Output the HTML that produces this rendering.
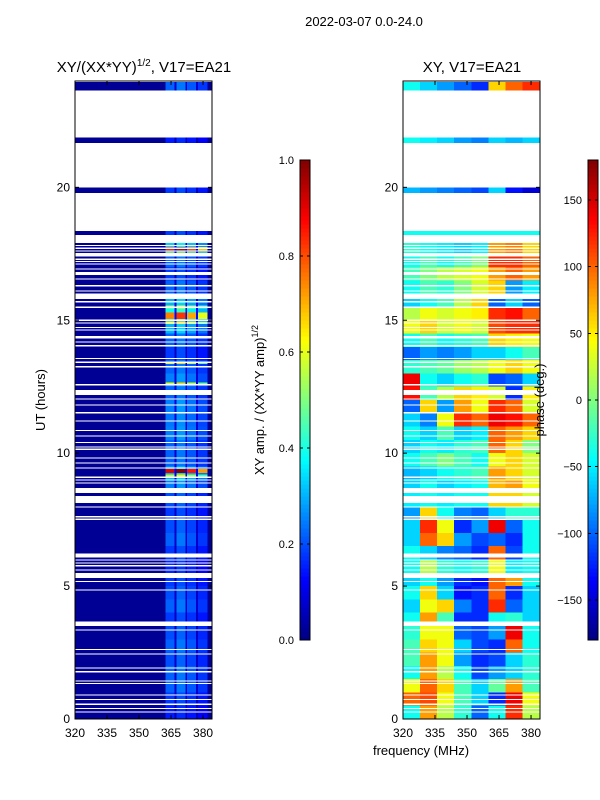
<!DOCTYPE html>
<html><head><meta charset="utf-8">
<style>
body{margin:0;background:#fff;}
svg{display:block;font-family:"Liberation Sans","DejaVu Sans",sans-serif;}
</style></head>
<body>
<svg id="fig" width="600" height="800" viewBox="0 0 600 800">
<text x="364" y="26" font-size="13" text-anchor="middle">2022-03-07 0.0-24.0</text>
<text x="144" y="72" font-size="15" text-anchor="middle">XY/(XX*YY)<tspan font-size="10" dy="-6">1/2</tspan><tspan dy="6">, V17=EA21</tspan></text>
<text x="472" y="72" font-size="15" text-anchor="middle">XY, V17=EA21</text>
<text transform="translate(45,400) rotate(-90)" font-size="13" text-anchor="middle">UT (hours)</text>
<text x="421" y="755" font-size="13" text-anchor="middle">frequency (MHz)</text>
<text transform="translate(264,400) rotate(-90)" font-size="13" text-anchor="middle">XY amp. / (XX*YY amp)<tspan font-size="9" dy="-6">1/2</tspan></text>
<g id="ampPanel" shape-rendering="crispEdges"></g>
<g id="phPanel" shape-rendering="crispEdges"></g>
<g id="axes"></g>
<text transform="translate(544,400) rotate(-90)" font-size="13" text-anchor="middle">phase (deg.)</text>
</svg>
<script>
// ---- data ----
const timeBinHours = 0.5;
const dataRanges = [[0,3.5],[3.66,17.9],[18.21,18.36],[19.79,19.99],[21.66,21.88],[23.64,23.97]];
const flaggedRows = [[0.25,0.29],[0.38,0.42],[0.54,0.58],[0.72,0.76],[0.88,0.92],[1.32,1.36],[1.41,1.45],[1.76,1.8],[1.9,1.94],[2.43,2.47],[2.6,2.64],[3.33,3.37],
[4.83,4.87],[5.15,5.19],[5.3,5.49],[5.59,5.63],[5.75,5.79],[5.85,5.89],[5.96,6.0],[6.08,6.23],[7.5,7.54],[7.59,7.63],[7.96,8.0],[8.13,8.33],[8.34,8.38],[8.51,8.69],[8.86,8.9],[8.97,9.01],[9.08,9.12],[9.42,9.46],[9.61,9.65],[9.8,9.84],[10.13,10.17],[10.22,10.26],[10.38,10.42],[10.63,10.67],[10.83,10.87],[11.19,11.23],[11.5,11.54],[11.79,11.83],
[12.02,12.06],[12.19,12.38],[12.56,12.6],[13.23,13.27],[13.4,13.44],[13.54,13.58],[14.02,14.06],[14.17,14.21],[14.32,14.41],[14.62,14.66],[14.71,14.75],[14.88,14.92],[14.98,15.02],[15.47,15.51],[15.68,15.72],[15.79,16.01],[16.08,16.12],[16.28,16.32],[16.53,16.57],[16.71,16.75],[16.77,16.81],[16.91,16.95],[17.1,17.14],[17.19,17.23],[17.28,17.32],[17.4,17.53],[17.59,17.63],[17.69,17.73],[17.79,17.83]];
const bandAmp = [0.15,0.18,0.22,0.22,0.2,0.22,0.2,0.18,0.22,0.2,0.18,0.16,0.18,0.22,0.2,0.18,0.2,0.25,0.3,0.22,0.22,0.25,0.24,0.25,0.22,0.25,0.22,0.18,0.22,0.3,0.38,0.3,0.22,0.18,0.22,0.33,0.18,0.15,0.15,0.18,0.15,0.15,0.15,0.15,0.15,0.15,0.15,0.22];
const hotRows = [[17.6,17.75,0.85],[17.45,17.55,0.6],[15.05,15.3,0.75],[14.85,14.95,0.6],[13.35,13.45,0.6],[12.55,12.65,0.6],[9.25,9.4,0.9],[9.1,9.2,0.55],[15.45,15.55,0.55]];
const ampChanEdges = [320,362.5,366.7,367.5,371.8,372.6,376.8,377.6,382,384];
const ampChanWeight = [0,1.0,0.35,1.1,0.35,0.95,0.35,0.8,0];
const phaseFreqEdges = [320,328,336,344,352,360,368,376,384];
const phaseGrid = [
[-40,80,20,-30,-100,-40,120,20],
[100,110,40,-20,-60,-120,140,40],
[40,100,60,-20,-60,-10,80,-20],
[-40,80,20,-40,-110,-80,-60,-30],
[-20,80,40,-80,-120,-110,-60,-30],
[-20,60,40,-60,-110,-120,100,-40],
[-30,40,40,-100,-110,-80,140,-40],
[-40,80,-20,-120,-120,-40,-30,-60],
[-60,40,60,-90,-120,120,-100,-60],
[-40,60,-60,-130,-120,100,-120,-60],
[-60,-40,-80,-120,-130,100,80,-40],
[-40,20,-30,-40,-30,40,-50,-40],
[-40,-60,-90,-100,-120,100,-110,-40],
[-60,100,60,-80,-110,-100,-120,-40],
[-60,120,40,-120,-80,140,-100,-40],
[-80,60,-40,-90,-100,-60,-30,-30],
[-50,-40,-50,-40,-40,60,60,30],
[-60,-40,-60,-50,-40,70,80,40],
[-70,-60,-40,-30,-20,80,60,30],
[-40,-20,0,-20,-40,40,60,30],
[-60,-40,-50,-30,-20,100,60,0],
[-40,-60,-20,-60,-50,100,80,60],
[-60,-90,40,120,100,140,130,100],
[-100,60,-80,80,40,120,100,30],
[130,-20,20,60,50,30,-120,50],
[140,-40,-60,-40,-30,-110,-100,-60],
[-30,-20,-10,10,20,40,60,40],
[-100,-80,-90,-80,-60,-60,-40,-20],
[-40,-20,-40,-30,-20,60,50,40],
[40,60,30,40,30,110,120,120],
[20,40,30,40,50,120,130,100],
[-60,-40,-20,20,60,-100,-60,-100],
[-40,-20,-30,0,30,60,-80,-50],
[-20,0,20,30,40,80,100,80],
[-40,-20,-40,-20,0,120,120,100],
[-30,-40,-50,-60,-50,80,90,60],
[-40,-40,-40,-40,-40,-40,-40,-40],
[-40,-40,-40,-40,-40,-40,-40,-40],
[-40,-40,-40,-40,-40,-40,-40,-40],
[-70,-80,-90,-100,-110,-60,-130,-150],
[-40,-40,-40,-40,-40,-40,-40,-40],
[-40,-40,-40,-40,-40,-40,-40,-40],
[-40,-40,-40,-40,-40,-40,-40,-40],
[-40,-50,-60,-80,-90,-60,-70,-60],
[-40,-40,-40,-40,-40,-40,-40,-40],
[-40,-40,-40,-40,-40,-40,-40,-40],
[-40,-40,-40,-40,-40,-40,-40,-40],
[-40,-60,-80,-100,-120,60,100,120]];
const yTicks = [0,5,10,15,20];
const xTicks = [320,335,350,365,380];
const ampCbTicks = [0.0,0.2,0.4,0.6,0.8,1.0];
const phCbTicks = [-150,-100,-50,0,50,100,150];

// ---- geometry ----
const NS='http://www.w3.org/2000/svg';
const T0=81,B0=719;
const P1={l:75,r:212}, P2={l:403,r:540};
const fMin=320,fMax=384.2;
function yScale(t){return B0-(t/24)*(B0-T0);}
function xScale(p,f){return p.l+(f-fMin)/(fMax-fMin)*(p.r-p.l);}
function jet(v){v=Math.max(0,Math.min(1,v));
 const c=x=>Math.max(0,Math.min(1,1.5-Math.abs(4*v-x)));
 return 'rgb('+Math.round(255*c(3))+','+Math.round(255*c(2))+','+Math.round(255*c(1))+')';}
function mk(tag,attrs,parent){const e=document.createElementNS(NS,tag);for(const k in attrs)e.setAttribute(k,attrs[k]);parent.appendChild(e);return e;}
function inData(t0,t1){const out=[];dataRanges.forEach(r=>{const a=Math.max(t0,r[0]),b=Math.min(t1,r[1]);if(b>a)out.push([a,b]);});return out;}

const ampG=document.getElementById('ampPanel');
const phG=document.getElementById('phPanel');
const axes=document.getElementById('axes');

// amplitude heatmap
bandAmp.forEach((amp,i)=>{
 inData(i*timeBinHours,(i+1)*timeBinHours).forEach(([a,b])=>{
  for(let c=0;c<ampChanWeight.length;c++){
   const w=ampChanWeight[c];const v=w===0?0.02:amp*w;
   const x0=xScale(P1,ampChanEdges[c]),x1=xScale(P1,ampChanEdges[c+1]);
   const r=mk('rect',{x:x0,y:yScale(b),width:x1-x0,height:yScale(a)-yScale(b),fill:jet(v)},ampG);
   
   
  }
 });
});
hotRows.forEach(h=>{
 inData(h[0],h[1]).forEach(([a,b])=>{
  for(let c=0;c<ampChanWeight.length;c++){
   const w=ampChanWeight[c];if(w<0.5)continue;
   const x0=xScale(P1,ampChanEdges[c]),x1=xScale(P1,ampChanEdges[c+1]);
   const r=mk('rect',{x:x0,y:yScale(b),width:x1-x0,height:yScale(a)-yScale(b),fill:jet(h[2]*w)},ampG);
   
   
  }
 });
});
// phase heatmap
phaseGrid.forEach((row,i)=>{
 inData(i*timeBinHours,(i+1)*timeBinHours).forEach(([a,b])=>{
  row.forEach((ph,c)=>{
   const x0=xScale(P2,phaseFreqEdges[c]),x1=xScale(P2,phaseFreqEdges[c+1]);
   const r=mk('rect',{x:x0,y:yScale(b),width:x1-x0,height:yScale(a)-yScale(b),fill:jet((ph+180)/360)},phG);
   
   
  });
 });
});
// flagged rows
[[P1,ampG],[P2,phG]].forEach(([P,g])=>{
 flaggedRows.forEach(f=>{
  const r=mk('rect',{x:P.l,y:yScale(f[1]),width:P.r-P.l,height:Math.max(1.2,yScale(f[0])-yScale(f[1])),fill:'#fff'},g);
  
  
 });
});

// axes frames & ticks
[P1,P2].forEach((P,pi)=>{
 const fr=mk('rect',{x:P.l,y:T0,width:P.r-P.l,height:B0-T0,fill:'none',stroke:'#000','stroke-width':1},axes);
 
 
 yTicks.forEach(t=>{
  const y=yScale(t);
  mk('line',{x1:P.l,x2:P.l+4,y1:y,y2:y,stroke:'#000'},axes);
  mk('line',{x1:P.r,x2:P.r-4,y1:y,y2:y,stroke:'#000'},axes);
  const tx=mk('text',{x:P.l-5,y:y+4,'font-size':12,'text-anchor':'end'},axes);tx.textContent=t;
  
  
 });
 xTicks.forEach(f=>{
  const x=xScale(P,f);
  mk('line',{x1:x,x2:x,y1:B0,y2:B0-4,stroke:'#000'},axes);
  mk('line',{x1:x,x2:x,y1:T0,y2:T0+4,stroke:'#000'},axes);
  const tx=mk('text',{x:x,y:737,'font-size':12,'text-anchor':'middle'},axes);tx.textContent=f;
  
  
 });
});

// colorbars
function colorbar(x,ticks,vmin,vmax,name,fmt){
 const g=mk('g',{'shape-rendering':'crispEdges'},axes);
 
 
 const top=160,bot=640,n=120;
 for(let i=0;i<n;i++){
  const y0=bot-(i+1)*(bot-top)/n;
  mk('rect',{x:x,y:y0,width:10,height:(bot-top)/n+0.5,fill:jet((i+0.5)/n)},g);
 }
 mk('rect',{x:x,y:top,width:10,height:bot-top,fill:'none',stroke:'#000'},g);
 ticks.forEach(v=>{
  const y=bot-(v-vmin)/(vmax-vmin)*(bot-top);
  mk('line',{x1:x,x2:x+3,y1:y,y2:y,stroke:'#000'},g);
  mk('line',{x1:x+10,x2:x+7,y1:y,y2:y,stroke:'#000'},g);
  const tx=mk('text',{x:x-6,y:y+4,'font-size':11,'text-anchor':'end'},g);tx.textContent=fmt(v);
  
  
 });
}
colorbar(300,ampCbTicks,0,1,'amp-colorbar',v=>v.toFixed(1));
colorbar(588,phCbTicks,-180,180,'phase-colorbar',v=>v<0?'\u2212'+(-v):String(v));
</script>
</body></html>
